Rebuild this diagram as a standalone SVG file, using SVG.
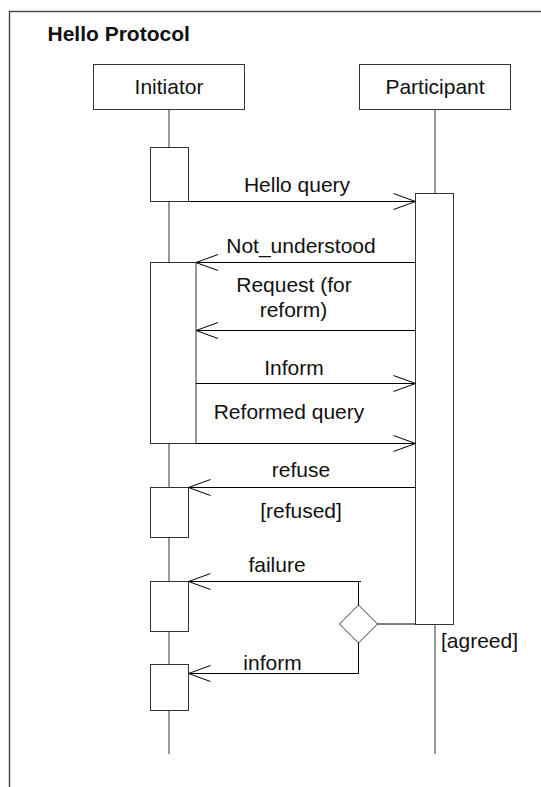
<svg xmlns="http://www.w3.org/2000/svg" width="541" height="787" viewBox="0 0 541 787">
  <style>
    .txt { font-family: "Liberation Sans", Arial, sans-serif; font-size: 21px; fill: #111; }
    .mid { text-anchor: middle; }
    .title { font-weight: bold; }
    .box { fill: #fff; stroke: #333; stroke-width: 1; }
    .life { stroke: #555; stroke-width: 1.2; fill: none; }
    .msg { stroke: #000; stroke-width: 1; fill: none; }
    .arrow { marker-end: url(#open); }
  </style>
  <defs>
    <marker id="open" viewBox="-23 -9 24 18" refX="0" refY="0" markerWidth="24" markerHeight="18" markerUnits="userSpaceOnUse" orient="auto" overflow="visible">
      <path d="M-22,-8 L0,0 L-22,8" fill="none" stroke="#000" stroke-width="1"/>
    </marker>
  </defs>

  <rect width="541" height="787" fill="#fff"/>

  <!-- protocol frame, open to the right and bottom -->
  <g id="frame">
    <rect x="9.5" y="11.5" width="700" height="900" fill="none" stroke="#444" stroke-width="1.4"/>
    <text class="txt title" x="47.5" y="41">Hello Protocol</text>
  </g>

  <!-- lifelines -->
  <g id="lifelines">
    <line class="life" x1="169" y1="109.5" x2="169" y2="754"/>
    <line class="life" x1="435" y1="109.5" x2="435" y2="754"/>
  </g>

  <g id="initiator">
    <rect class="box" x="93.5" y="64.5" width="151" height="45"/>
    <text class="txt mid" x="169" y="94">Initiator</text>
  </g>

  <g id="participant">
    <rect class="box" x="359.5" y="64.5" width="151" height="45"/>
    <text class="txt mid" x="435" y="94">Participant</text>
  </g>

  <!-- activation bars -->
  <g id="act-initiator-1"><rect class="box" x="150.5" y="147.5" width="38" height="54"/></g>
  <g id="act-participant"><rect class="box" x="415.5" y="193.5" width="38" height="431"/></g>
  <g id="act-initiator-2"><rect class="box" x="150.5" y="262.5" width="45.5" height="181"/></g>
  <g id="act-initiator-3"><rect class="box" x="150.5" y="487.5" width="38" height="50"/></g>
  <g id="act-initiator-4"><rect class="box" x="150.5" y="581.5" width="38" height="50"/></g>
  <g id="act-initiator-5"><rect class="box" x="150.5" y="664.5" width="38" height="46"/></g>

  <!-- decision -->
  <g id="decision">
    <path d="M358.5,605 L377.5,624 L358.5,643 L339.5,624 Z" fill="#fff" stroke="#333" stroke-width="1"/>
  </g>

  <!-- messages -->
  <g id="connectors">
    <path class="msg arrow" d="M188.5,201.5 H415.5"/>
    <path class="msg arrow" d="M415.5,262.5 H196"/>
    <path class="msg arrow" d="M415.5,330.5 H196"/>
    <path class="msg arrow" d="M196,383.5 H415.5"/>
    <path class="msg arrow" d="M196,443.5 H415.5"/>
    <path class="msg arrow" d="M415.5,487.5 H188.5"/>
    <path class="msg" d="M358.5,605 V581.5"/>
    <path class="msg arrow" d="M361,581.5 H188.5"/>
    <path class="msg" d="M377.5,624 H415.5"/>
    <path class="msg arrow" d="M358.5,643 V673.5 H188.5"/>
  </g>

  <!-- message labels -->
  <g id="labels">
    <text class="txt mid" x="297" y="192">Hello query</text>
    <text class="txt mid" x="301" y="252.5">Not_understood</text>
    <text class="txt mid" x="294" y="292">Request (for</text>
    <text class="txt mid" x="293.5" y="317">reform)</text>
    <text class="txt mid" x="294" y="375">Inform</text>
    <text class="txt mid" x="289" y="419">Reformed query</text>
    <text class="txt mid" x="301" y="477">refuse</text>
    <text class="txt mid" x="301" y="518">[refused]</text>
    <text class="txt mid" x="277" y="571.5">failure</text>
    <text class="txt mid" x="272.5" y="670">inform</text>
    <text class="txt" x="441" y="648">[agreed]</text>
  </g>
</svg>
